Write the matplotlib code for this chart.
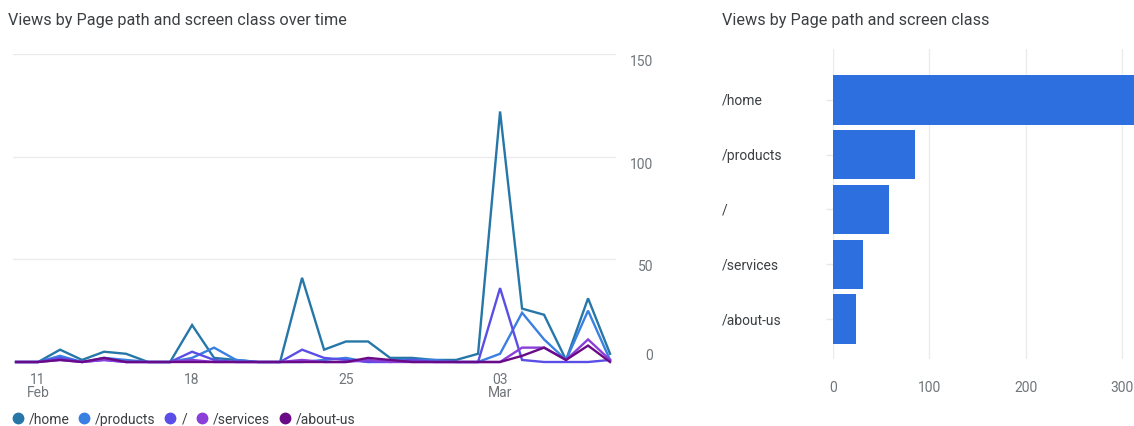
import numpy as np
import pandas as pd
import matplotlib
matplotlib.use("Agg")
import matplotlib.pyplot as plt
from matplotlib.lines import Line2D

plt.rcParams['font.family'] = ['Roboto', 'DejaVu Sans']

# daily views, 10 Feb - 8 Mar 2024
dates = pd.date_range('2024-02-10', '2024-03-08')
home = [0, 0, 6, 1, 5, 4, 0, 0, 18, 2, 1, 0, 0, 41, 6, 10, 10, 2, 2, 1, 1, 4, 122, 26, 23, 1, 31, 4]
products = [0, 0, 3, 0, 2, 1, 0, 0, 2, 7, 1, 0, 0, 0, 1, 2, 0, 1, 1, 1, 0, 0, 4, 24, 11, 1, 25, 1]
root = [0, 0, 2, 0, 1, 0, 0, 0, 5, 1, 0, 0, 0, 6, 2, 1, 0, 0, 1, 0, 0, 0, 36, 1, 0, 0, 0, 1]
services = [0, 0, 1, 0, 1, 0, 0, 0, 1, 0, 0, 0, 0, 1, 0, 0, 1, 0, 0, 0, 0, 0, 0, 7, 7, 1, 11, 1]
about_us = [0, 0, 1, 0, 2, 0, 0, 0, 0, 0, 0, 0, 0, 0, 0, 0, 2, 1, 0, 0, 0, 0, 0, 3, 7, 1, 8, 0]

series_names = ['/home', '/products', '/', '/services', '/about-us']
series_vals = [home, products, root, services, about_us]
colors = ['#2677a8', '#3a7fe2', '#5a4ee6', '#8a3fd8', '#6a0a86']

tick_dates = ['2024-02-11', '2024-02-18', '2024-02-25', '2024-03-03']
tick_labels = ['11\nFeb', '18', '25', '03\nMar']
y_ticks = [0, 50, 100, 150]

# totals for the bar chart
pages = ['/home', '/products', '/', '/services', '/about-us']
totals = [318, 85, 58, 31, 24]
bar_ticks = [0, 100, 200, 300]

W, H = 1134, 427
fig = plt.figure(figsize=(W / 100, H / 100), dpi=100)
grid_c = '#ebebeb'
txt_c = '#3c4043'
lab_c = '#70757a'

# ---- line chart
ax = fig.add_axes([13 / W, 1 - 363 / H, 603 / W, 308 / H])
x = np.arange(len(dates))
for name, vals, c in zip(series_names, series_vals, colors):
    ax.plot(x, vals, color=c, lw=1.7, clip_on=False, solid_joinstyle='miter', zorder=3)
ax.set_xlim(-0.14, len(dates) - 1 + 0.27)
ax.set_ylim(0, 150)
for s in ax.spines.values():
    s.set_visible(False)
ax.yaxis.tick_right()
ax.set_yticks(y_ticks)
ax.set_yticklabels([str(v) for v in y_ticks])
ax.grid(axis='y', color=grid_c, lw=1)
ax.tick_params(axis='y', length=0, pad=27, labelsize=10, labelcolor=lab_c)
for lbl, v in zip(ax.get_yticklabels(), y_ticks):
    lbl.set_ha('right')
    lbl.set_va('bottom' if v == 0 else 'top')
pos = [list(dates).index(pd.Timestamp(d)) for d in tick_dates]
ax.set_xticks(pos)
ax.set_xticklabels(tick_labels)
ax.tick_params(axis='x', length=0, pad=7, labelsize=10, labelcolor=lab_c)
for lbl in ax.get_xticklabels():
    lbl.set_linespacing(0.95)

fig.text(8 / W, 1 - 20 / H, 'Views by Page path and screen class over time',
         fontsize=11.7, color=txt_c, va='center', ha='left')

handles = [Line2D([], [], ls='none', marker='o', ms=7.5, color=c) for c in colors]
fig.legend(handles, series_names, loc='center left', bbox_to_anchor=(12 / W, 1 - 420 / H),
           ncol=5, frameon=False, fontsize=10, handlelength=0.8, handletextpad=0.4,
           columnspacing=0.65, labelcolor=txt_c, borderaxespad=0, borderpad=0)

# ---- bar chart
bx = fig.add_axes([833 / W, 1 - 360 / H, 301 / W, 310 / H])
yb = np.arange(len(pages))
bx.barh(yb, totals, height=0.9, color='#2e6fe0', zorder=3)
bx.set_xlim(0, 312)
bx.set_ylim(4.73, -0.93)
for s in bx.spines.values():
    s.set_visible(False)
bx.set_xticks(bar_ticks)
bx.set_xticklabels([str(v) for v in bar_ticks])
bx.grid(axis='x', color=grid_c, lw=1)
bx.tick_params(axis='x', length=0, pad=15, labelsize=10, labelcolor=lab_c)
bx.set_yticks(yb)
bx.set_yticklabels([])
bx.tick_params(axis='y', length=5, color='#e8e8e8', width=1)
for yy, p in zip(yb, pages):
    bx.text(722 / W, yy, p, transform=matplotlib.transforms.blended_transform_factory(fig.transFigure, bx.transData),
            fontsize=10, color=txt_c, va='center', ha='left')

fig.text(722 / W, 1 - 20 / H, 'Views by Page path and screen class',
         fontsize=11.7, color=txt_c, va='center', ha='left')

fig.savefig('out.png', dpi=100)
